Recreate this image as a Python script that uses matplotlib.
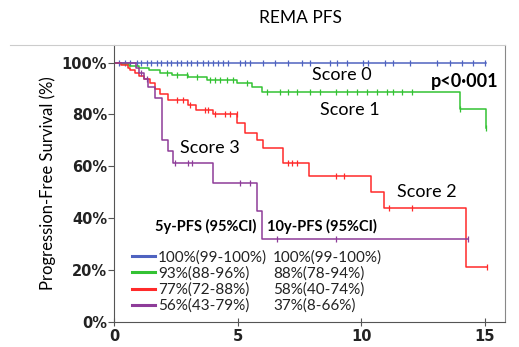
import numpy as np
import matplotlib
matplotlib.use("Agg")
import matplotlib.pyplot as plt
from matplotlib.lines import Line2D

# step curves: event times (years) and survival (%) after each event
t0 = [0, 15.06]
s0 = [100, 100]
t1 = [0, 0.3, 0.6, 1.0, 1.4, 1.86, 2.33, 3.0, 3.75, 4.96, 5.6, 5.97, 14.0, 15.03]
s1 = [100, 99.5, 98.8, 97.8, 97.0, 95.9, 95.3, 94.4, 93.1, 92.0, 90.7, 88.8, 82.1, 74.7]
t2 = [0, 0.3, 0.55, 0.65, 0.85, 1.0, 1.2, 1.46, 1.66, 1.86, 2.2, 3.0, 3.3, 4.0, 4.97,
      5.3, 5.77, 6.04, 6.85, 7.9, 10.38, 10.92, 14.23, 15.07]
s2 = [100, 99, 98, 97.3, 96, 95, 93.5, 92, 90, 88, 85.6, 83.7, 81.8, 80.2, 76.7,
      73, 70.2, 67, 61.2, 56.3, 49.9, 43.7, 21.3, 21.3]
t3 = [0, 0.9, 1.0, 1.2, 1.39, 1.66, 1.93, 2.2, 2.37, 4.02, 5.77, 6.0, 14.3]
s3 = [100, 98, 96, 93.5, 90.7, 86.2, 70.1, 65.7, 61.4, 53.6, 42.8, 32.0, 32.0]

# censoring times
c0 = [0.2, 0.44, 0.65, 0.92, 1.1, 1.32, 1.5, 1.73, 1.9, 2.13, 2.3, 2.53, 2.7, 2.94, 3.1,
      3.34, 3.6, 3.81, 4.0, 4.22, 4.4, 4.62, 5.1, 5.3, 5.5, 6.04, 6.51, 7.05, 7.59, 7.93,
      8.73, 9.0, 9.41, 10.08, 10.28, 10.96, 11.29, 11.97, 13.05, 13.59, 14.06, 14.53, 15.0]
c1 = [2.13, 2.53, 2.94, 3.34, 3.88, 4.08, 4.29, 4.56, 4.83, 5.37, 6.17, 6.71, 7.05, 7.39,
      7.93, 8.33, 8.98, 9.41, 9.81, 10.22, 10.62, 11.03, 11.29, 11.63, 12.04, 14.0, 15.03]
c2 = [2.53, 2.8, 3.07, 3.68, 3.81, 4.08, 4.49, 4.69, 4.96, 7.05, 7.19, 7.39, 8.98, 9.3,
      11.1, 12.04, 15.07]
c3 = [1.1, 1.32, 2.47, 3.0, 3.14, 5.09, 5.5, 6.58, 8.98, 14.33]

colors = ["#4f63c0", "#33c233", "#ff2a2a", "#8e3c99"]
col5 = ["100%(99-100%)", "93%(88-96%)", "77%(72-88%)", "56%(43-79%)"]
col10 = ["100%(99-100%)", "88%(78-94%)", "58%(40-74%)", "37%(8-66%)"]

fig = plt.figure(figsize=(5.19, 3.47), dpi=100)
ax = fig.add_axes([114/519, 1-321.7/347, 391/519, (321.7-45)/347])

curves = [(t0, s0, c0), (t1, s1, c1), (t2, s2, c2), (t3, s3, c3)]
for (t, s, c), col in zip(curves, colors):
    t = np.array(t)
    s = np.array(s)
    ax.step(t, s, where="post", color=col, lw=1.1)
    idx = np.searchsorted(t, c, side="right") - 1
    ax.plot(c, s[idx], ls="none", marker="|", ms=4, mew=0.9, color=col)

ax.set_xlim(0, 15.81)
ax.set_ylim(0, 106.8)
ax.set_xticks([0, 5, 10, 15])
ax.set_yticks([0, 20, 40, 60, 80, 100])
ax.set_yticklabels(["0%", "20%", "40%", "60%", "80%", "100%"])
for lab in ax.get_xticklabels() + ax.get_yticklabels():
    lab.set_fontweight("bold")
    lab.set_fontsize(10.5)
    lab.set_color("#222222")
ax.tick_params(axis="y", direction="out", length=4, width=0.8, color="#555555", pad=1)
ax.tick_params(axis="x", direction="inout", length=6, width=0.8, color="#555555", pad=2)

ax.spines["top"].set_visible(False)
ax.spines["left"].set_color("#555555")
ax.spines["bottom"].set_color("#555555")
ax.spines["right"].set_color("#888888")
fig.add_artist(Line2D([10/519, 505/519], [1-45/347, 1-45/347], color="#cccccc", lw=0.8))

ax.set_ylabel("Progression-Free Survival (%)", family="Lato", fontsize=12, labelpad=4)
fig.text(0.578, 1-18/347, "REMA PFS", family="Lato", fontsize=12.5, ha="center", va="center")

lab_kw = dict(family="Lato", fontsize=13, ha="center", va="center")
ax.text(9.2, 95.3, "Score 0", **lab_kw)
ax.text(9.54, 81.8, "Score 1", **lab_kw)
ax.text(3.88, 67, "Score 3", **lab_kw)
ax.text(12.64, 50.2, "Score 2", **lab_kw)
ax.text(14.19, 92.7, "p<0·001", family="Lato", fontsize=13, fontweight="bold",
        ha="center", va="center")

ax.text(1.66, 36.6, "5y-PFS (95%CI)", family="Lato", fontsize=10.5, fontweight="bold",
        ha="left", va="center")
ax.text(6.19, 36.6, "10y-PFS (95%CI)", family="Lato", fontsize=10.5, fontweight="bold",
        ha="left", va="center")

handles = [Line2D([], [], color=c, lw=2.2) for c in colors]
handles += [Line2D([], [], color="none") for _ in colors]
leg = ax.legend(handles, col5 + col10, ncol=2, loc="upper left",
                bbox_to_anchor=(0.046, 0.258), frameon=False, borderpad=0,
                borderaxespad=0, handlelength=1.5, handletextpad=0.2,
                labelspacing=0.12, columnspacing=-1.3,
                prop={"family": "Lato", "size": 11})
for txt in leg.get_texts():
    txt.set_color("#222222")

fig.savefig("out.png", dpi=100)
